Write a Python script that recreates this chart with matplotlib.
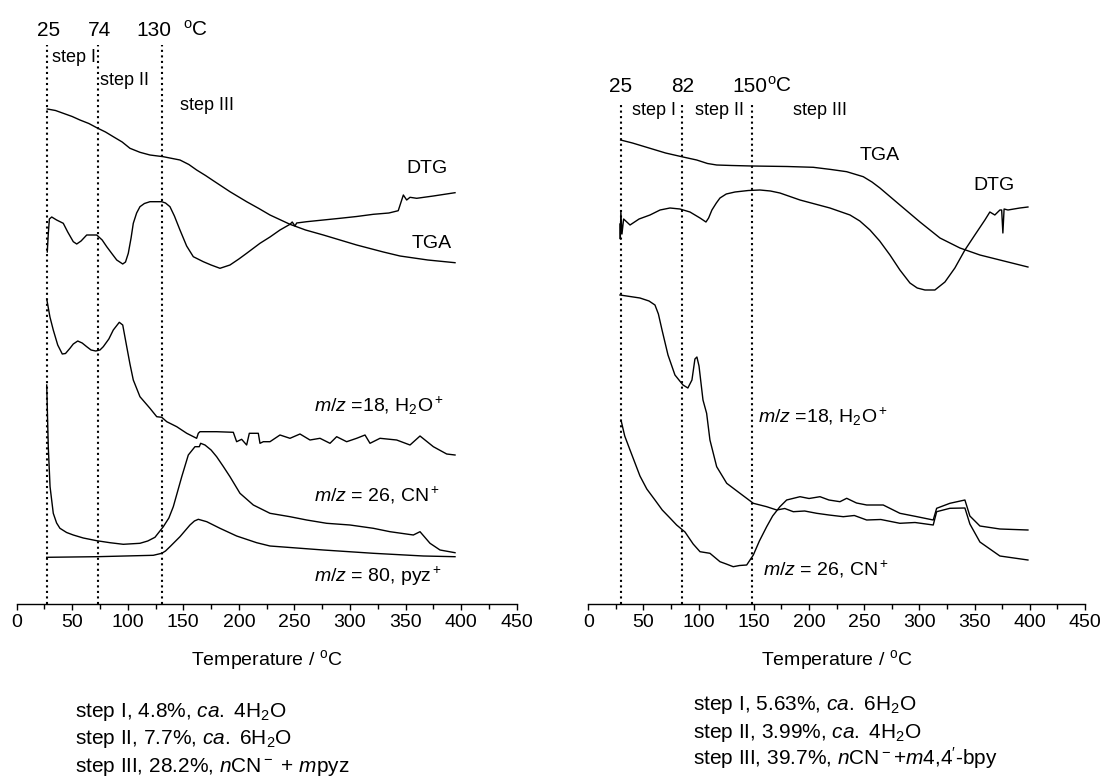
import numpy as np
import matplotlib
matplotlib.use("Agg")
import matplotlib.pyplot as plt
from matplotlib.ticker import MultipleLocator

plt.rcParams['font.family'] = ['Liberation Sans', 'DejaVu Sans']
plt.rcParams['mathtext.fontset'] = 'custom'
plt.rcParams['mathtext.rm'] = 'Liberation Sans'
plt.rcParams['mathtext.it'] = 'Liberation Sans:italic'
plt.rcParams['mathtext.bf'] = 'Liberation Sans:bold'

# ---- left panel (pyz compound); y values are arbitrary signal units ----
tga_l_T = [27.6, 35.0, 42.0, 50.0, 57.0, 65.0, 72.1, 80.0, 87.0, 95.0, 102.0, 111.0,
           120.0, 132.0, 147.0, 155.0, 162.0, 170.0, 177.0, 192.0, 207.0, 218.0,
           228.0, 246.0, 260.0, 276.0, 306.0, 330.0, 345.0, 370.0, 394.5]
tga_l = [495, 493.5, 490.7, 487.5, 484, 480.5, 476.3, 472, 467.3, 462, 455.7, 451.7,
         449, 447.3, 444, 439.5, 434, 428.5, 423.3, 412.3, 402.3, 395.5,
         389, 379.7, 374, 369, 359, 352, 348, 344, 341.3]

dtg_l_T = [27.6, 28.5, 29.5, 31.6, 36.0, 42.0, 46.0, 51.0, 54.1, 58.0, 63.1, 72.1,
           77.0, 81.1, 86.0, 90.1, 95.5, 98.0, 100.5, 103.0, 105.0, 108.0, 111.0,
           115.0, 120.0, 130.6, 134.0, 138.0, 142.0, 147.0, 153.0, 159.0, 168.0,
           175.0, 183.0, 192.0, 200.0, 207.0, 219.0, 228.0, 237.0, 246.0, 248.0,
           250.5, 252.0, 261.0, 276.0, 291.0, 306.0, 321.0, 335.0, 343.4, 348.0,
           351.0, 354.0, 360.0, 375.0, 394.5]
dtg_l = [352, 370, 385, 387, 384, 380.7, 372, 362.3, 360, 363, 369, 369,
         364, 357.3, 350, 344, 340, 342, 350.7, 366, 380.7, 391, 397.3,
         400.5, 402.3, 402.3, 401, 397.3, 388, 374, 358, 347.3, 342.3,
         339, 335.7, 339, 345, 350.7, 360.7, 367, 374, 379.7, 382,
         378, 381, 382.3, 384, 385.7, 387.5, 389.7, 391, 393.3, 409,
         404, 406.7, 405.7, 408, 411.3]

h2o_l_T = [27.1, 30.0, 33.0, 37.0, 41.1, 44.0, 48.0, 51.0, 55.0, 59.0, 63.1, 67.0,
           71.2, 75.0, 78.0, 83.0, 87.0, 92.4, 95.5, 99.1, 102.0, 105.0, 111.0,
           120.0, 126.1, 130.6, 135.1, 144.1, 153.1, 162.0, 163.5, 165.0, 180.0,
           195.0, 198.0, 202.5, 207.0, 209.4, 217.5, 219.0, 222.0, 228.0, 237.0,
           246.0, 255.0, 264.0, 273.0, 282.0, 288.0, 297.0, 306.0, 313.5, 318.0,
           327.0, 342.0, 354.0, 363.0, 375.0, 387.0, 394.5]
h2o_l = [305, 287, 274, 259, 250, 250.5, 255.7, 260, 263, 261, 257.3, 254,
         253, 254, 257.3, 265, 274, 281.7, 279, 257.3, 240, 224, 207.3,
         195.7, 187.3, 186.7, 182.3, 177.3, 170.7, 165.7, 170.7, 172.3, 172.3,
         171.7, 162.3, 164.7, 159, 170.7, 170.7, 160.7, 162.3, 162.3, 169,
         165.7, 170, 164, 165.7, 160.7, 167.3, 162.3, 165.7, 169, 160.7,
         165.7, 164, 159, 168, 157.3, 150, 149]

cn_l_T = [27.1, 28.5, 30.1, 33.0, 36.0, 39.0, 45.0, 51.0, 60.0, 72.1, 84.0, 96.0,
          111.0, 118.0, 124.5, 132.0, 137.0, 141.0, 148.6, 154.5, 160.5, 164.4,
          165.6, 169.5, 175.0, 180.0, 186.0, 192.0, 201.0, 213.0, 228.0, 246.0,
          261.0, 279.0, 300.0, 321.0, 336.0, 357.0, 363.0, 372.0, 381.0, 394.5]
cn_l = [219, 157.3, 117.3, 90.7, 81, 75.7, 71.5, 69, 66, 63.3, 61.3, 59.7,
        60.7, 63, 66.7, 77.3, 86, 97.3, 127.3, 149, 157.3, 157.3,
        160.7, 159, 154, 147.3, 137.5, 127.3, 110.7, 99, 90.7, 87.3,
        84, 80.7, 79, 75.7, 72.3, 69, 72.3, 60.7, 54, 51.3]

pyz_l_T = [27.1, 72.1, 123.0, 130.6, 134.0, 138.0, 147.0, 156.0, 160.0, 163.5,
           171.1, 183.0, 198.0, 216.0, 228.0, 276.0, 321.0, 366.0, 394.5]
pyz_l = [46.7, 47.3, 48.7, 50.7, 53, 57.3, 67.3, 79, 83, 84.7,
         82.3, 75.7, 68, 61.3, 58, 54, 50.7, 48, 47.3]

steps_l = [27.1, 73.0, 130.8]
step_labels_l = ['25', '74', '130']

# ---- right panel (4,4'-bpy compound) ----
tga_r_T = [29.3, 40.0, 52.9, 70.0, 84.6, 98.2, 108.0, 116.3, 130.0, 148.0, 180.0,
           203.8, 220.0, 234.1, 249.1, 257.0, 264.2, 282.3, 300.5, 318.6, 336.7,
           354.8, 372.9, 398.3]
tga_r = [464, 461, 456.7, 451, 447.3, 444, 440.5, 439, 438.5, 438, 437.5,
         436.7, 434.5, 432.3, 427.3, 422, 416, 399, 382, 366, 356,
         349, 344, 337]

dtg_r_T = [28.7, 29.0, 29.5, 30.5, 32.0, 37.8, 46.0, 55.9, 65.0, 74.0, 83.0, 92.1,
           101.2, 106.6, 109.0, 112.0, 116.0, 119.3, 125.0, 132.9, 145.0, 155.5,
           165.0, 173.6, 191.8, 218.9, 237.1, 246.0, 255.2, 264.0, 273.3, 282.3,
           291.4, 298.0, 305.0, 314.0, 323.1, 332.1, 341.2, 350.2, 359.3, 363.8,
           368.3, 372.9, 374.5, 375.6, 376.7, 380.2, 391.0, 398.3]
dtg_r = [380, 365, 392, 370, 385, 379, 385, 389, 394, 396, 395, 392,
         386, 382, 386, 394, 401, 406, 410, 412, 413.5, 414,
         413, 411, 404, 396, 389, 383, 374, 363, 349, 334,
         321, 316, 314, 314, 322, 336, 354, 369, 384, 392,
         389, 394, 394, 371, 395, 394, 396, 397]

h2o_r_T = [28.7, 46.8, 55.0, 60.4, 63.5, 66.8, 72.2, 78.5, 85.8, 90.2, 93.9, 96.6,
           98.4, 100.3, 102.1, 103.9, 107.2, 110.2, 116.3, 125.4, 137.4, 149.5,
           161.6, 170.7, 178.0, 185.7, 196.0, 206.9, 218.0, 231.0, 241.0, 252.2,
           265.0, 282.3, 296.0, 312.5, 315.6, 327.6, 341.2, 345.7, 354.8, 372.9,
           398.3]
h2o_r = [309, 306, 303, 299, 290, 274, 249, 229, 219, 216, 224, 245,
         247, 238, 221, 204, 190.7, 164, 137.3, 120.7, 110.7, 100.7,
         97.3, 94, 95.5, 92.3, 93, 90.7, 89, 87.3, 88.5, 84,
         84.5, 80.7, 81.5, 79, 92.3, 95.7, 96, 80, 62, 48,
         44]

cn_r_T = [29.6, 33.0, 37.8, 46.8, 53.0, 60.4, 67.0, 74.0, 80.0, 87.6, 95.0, 101.2,
          110.2, 119.3, 125.0, 131.3, 137.0, 143.5, 149.5, 155.0, 161.6, 167.0,
          173.6, 179.7, 191.8, 200.0, 209.9, 218.0, 228.0, 234.1, 243.0, 252.2,
          267.2, 282.3, 297.0, 312.5, 315.6, 327.6, 341.2, 345.7, 354.8, 372.9,
          398.3]
cn_r = [184, 168, 154, 128, 115, 104, 94, 86, 79, 72, 60, 52.3,
        50.7, 42.3, 40, 37.3, 38.5, 39, 49, 63, 77.3, 88,
        97.3, 104, 107.3, 105.5, 107.3, 104, 102.3, 105.7, 101, 99,
        99, 90.7, 87.5, 84, 95.7, 100.7, 104, 88, 78, 75,
        74]

steps_r = [29.3, 84.6, 148.0]
step_labels_r = ['25', '82', '150']

notes_l = [r'step I, 4.8%, $\mathit{ca.}$ 4H$_2$O',
           r'step II, 7.7%, $\mathit{ca.}$ 6H$_2$O',
           r'step III, 28.2%, $\mathit{n}$CN$^-$ + $\mathit{m}$pyz']
notes_r = [r'step I, 5.63%, $\mathit{ca.}$ 6H$_2$O',
           r'step II, 3.99%, $\mathit{ca.}$ 4H$_2$O',
           r"step III, 39.7%, $\mathit{n}$CN$^-$+$\mathit{m}$4,4$'$-bpy"]

W, H = 1102, 778
fig = plt.figure(figsize=(W / 100, H / 100), dpi=100)
ax1 = fig.add_axes([16.6 / W, (H - 604) / H, 500.1 / W, 584 / H])
ax2 = fig.add_axes([588.3 / W, (H - 604) / H, 496.7 / W, 584 / H])


def style(ax):
    ax.set_xlim(0, 450)
    ax.set_ylim(0, 584)
    for s in ['left', 'right', 'top']:
        ax.spines[s].set_visible(False)
    ax.spines['bottom'].set_linewidth(1.0)
    ax.set_yticks([])
    ax.xaxis.set_major_locator(MultipleLocator(50))
    ax.xaxis.set_minor_locator(MultipleLocator(25))
    ax.tick_params(axis='x', which='major', direction='out', length=4.5, width=1,
                   labelsize=14, pad=3)
    ax.tick_params(axis='x', which='minor', direction='out', length=3.5, width=1)
    ax.set_xlabel(r'Temperature / $^{\rm o}$C', fontsize=14, labelpad=12)
    ax.patch.set_alpha(0)


kw = dict(color='black', lw=1.0)
style(ax1)
for T, y in [(tga_l_T, tga_l), (dtg_l_T, dtg_l), (h2o_l_T, h2o_l),
             (cn_l_T, cn_l), (pyz_l_T, pyz_l)]:
    ax1.plot(T, y, **kw)
ax1.vlines(steps_l, 0, 559, colors='black', linestyles=':', lw=1.5)
for x, lab in zip([29.2, 75.0, 123.6], step_labels_l):
    ax1.text(x, 568, lab, fontsize=15, ha='center', va='baseline')
ax1.text(149.7, 568, r'$^{\rm o}$C', fontsize=15, ha='left', va='baseline')
ax1.text(31.9, 542, 'step I', fontsize=13, va='baseline')
ax1.text(75.0, 519, 'step II', fontsize=13, va='baseline')
ax1.text(147.0, 494, 'step III', fontsize=13, va='baseline')
ax1.text(351, 431, 'DTG', fontsize=14, va='baseline')
ax1.text(355.5, 356, 'TGA', fontsize=14, va='baseline')
ax1.text(267.6, 192, r'$m/z$ =18, H$_2$O$^+$', fontsize=14, va='baseline')
ax1.text(267.6, 103, r'$m/z$ = 26, CN$^+$', fontsize=14, va='baseline')
ax1.text(267.6, 22, r'$m/z$ = 80, pyz$^+$', fontsize=14, va='baseline')

style(ax2)
for T, y in [(tga_r_T, tga_r), (dtg_r_T, dtg_r), (h2o_r_T, h2o_r), (cn_r_T, cn_r)]:
    ax2.plot(T, y, **kw)
ax2.vlines(steps_r, 0, 502, colors='black', linestyles=':', lw=1.5)
for x, lab in zip([29.6, 85.3, 146.5], step_labels_r):
    ax2.text(x, 512.5, lab, fontsize=15, ha='center', va='baseline')
ax2.text(161.9, 512.5, r'$^{\rm o}$C', fontsize=15, ha='left', va='baseline')
ax2.text(39.6, 489, 'step I', fontsize=13, va='baseline')
ax2.text(96.6, 489, 'step II', fontsize=13, va='baseline')
ax2.text(185.4, 489, 'step III', fontsize=13, va='baseline')
ax2.text(246, 444, 'TGA', fontsize=14, va='baseline')
ax2.text(348.5, 414, 'DTG', fontsize=14, va='baseline')
ax2.text(154, 181, r'$m/z$ =18, H$_2$O$^+$', fontsize=14, va='baseline')
ax2.text(158, 29, r'$m/z$ = 26, CN$^+$', fontsize=14, va='baseline')

# composition notes under each panel
for i, s in enumerate(notes_l):
    fig.text(75 / W, 1 - (717 + 27.5 * i) / H, s, fontsize=15, va='baseline')
for i, s in enumerate(notes_r):
    fig.text(693 / W, 1 - (710 + 27.5 * i) / H, s, fontsize=15, va='baseline')

fig.savefig('out.png', dpi=100)
